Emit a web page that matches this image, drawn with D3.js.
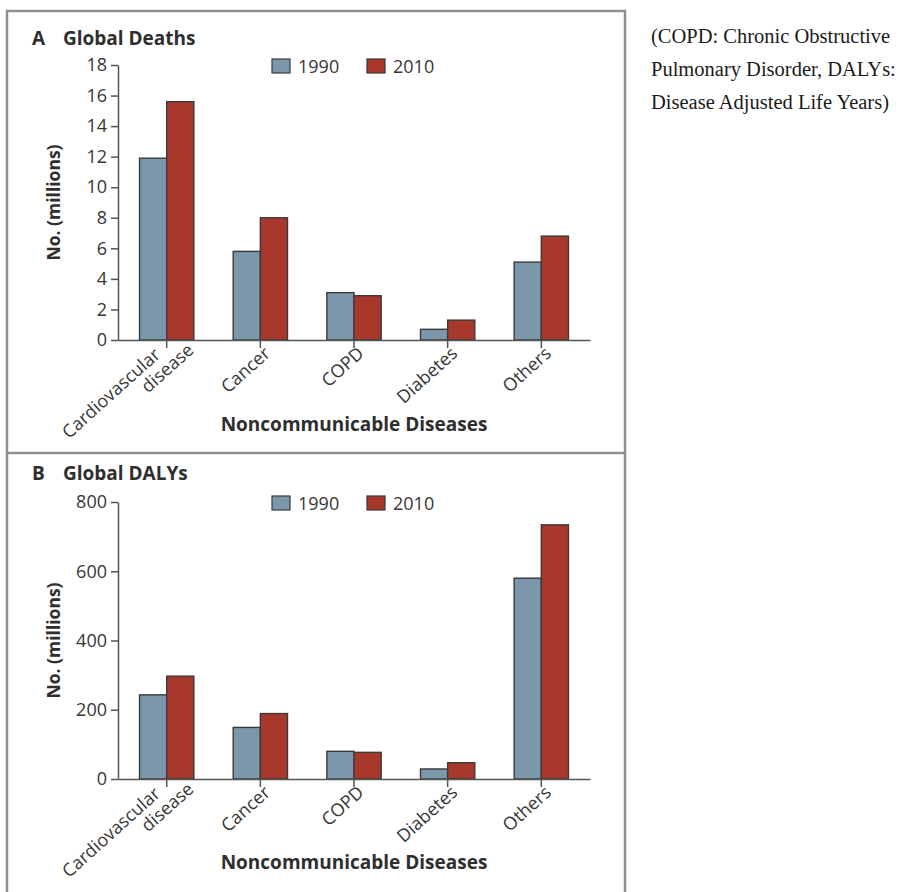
<!DOCTYPE html>
<html>
<head>
<meta charset="utf-8">
<script src="https://cdn.jsdelivr.net/npm/d3@7"></script>
<style>
  html, body { margin: 0; padding: 0; background: #fff; }
  svg { display: block; }
</style>
</head>
<body>
<svg id="chart" width="906" height="892"></svg>
<script>
// ---- data ----
const categories = ["Cardiovascular disease", "Cancer", "COPD", "Diabetes", "Others"];
const categoryLines = [["Cardiovascular", "disease"], ["Cancer"], ["COPD"], ["Diabetes"], ["Others"]];
const seriesNames = ["1990", "2010"];
const deaths1990 = [11.9, 5.8, 3.1, 0.7, 5.1];
const deaths2010 = [15.6, 8.0, 2.9, 1.3, 6.8];
const dalys1990 = [243, 149, 80, 29, 580];
const dalys2010 = [297, 189, 77, 47, 734];
const deathTicks = [0, 2, 4, 6, 8, 10, 12, 14, 16, 18];
const dalyTicks = [0, 200, 400, 600, 800];
const panelLetters = ["A", "B"];
const panelTitles = ["Global Deaths", "Global DALYs"];
const yTitle = "No. (millions)";
const xTitle = "Noncommunicable Diseases";
const noteLines = ["(COPD: Chronic Obstructive", "Pulmonary Disorder, DALYs:", "Disease Adjusted Life Years)"];

// ---- styles ----
const colors = { "1990": "#7b97ab", "2010": "#a9382c" };
const FONT = "'Open Sans', sans-serif";
const TXT = "#363636";

const svg = d3.select("#chart");

// frame
const frame = svg.append("g").attr("fill", "none").attr("stroke", "#8e8e8e").attr("stroke-width", 2.5);
frame.append("path").attr("d", "M7,892V11H625V892");
frame.append("line").attr("x1", 7).attr("x2", 625).attr("y1", 453).attr("y2", 453);

// note text
svg.append("g").selectAll("text").data(noteLines).join("text")
  .attr("x", 651).attr("y", (d, i) => 43 + i * 33)
  .attr("font-family", "'Liberation Serif', 'Times New Roman', serif")
  .attr("font-size", 20.5).attr("fill", "#1a1a1a")
  .text(d => d);

function drawPanel(cfg) {
  const g = svg.append("g");
  const x0 = d3.scaleBand().domain(categories).range([118, 590]).paddingInner(0.42).paddingOuter(0.23);
  const x1 = d3.scaleBand().domain(seriesNames).range([0, x0.bandwidth()]);
  const y = d3.scaleLinear().domain([0, cfg.max]).range([cfg.y0, cfg.yTop]);

  // title
  g.append("text").attr("x", 32).attr("y", cfg.titleY)
    .attr("font-family", FONT).attr("font-weight", 700).attr("font-size", 19).attr("fill", "#2e2e2e")
    .text(cfg.letter);
  g.append("text").attr("x", 63).attr("y", cfg.titleY)
    .attr("font-family", FONT).attr("font-weight", 700).attr("font-size", 19).attr("fill", "#2e2e2e")
    .text(cfg.title);

  // legend
  const leg = g.append("g");
  const legX = [272, 367];
  seriesNames.forEach((s, i) => {
    leg.append("rect").attr("x", legX[i]).attr("y", cfg.legendY - 7).attr("width", 18).attr("height", 14)
      .attr("fill", colors[s]).attr("stroke", "#3a3a3a").attr("stroke-width", 1.2);
    leg.append("text").attr("x", legX[i] + 26).attr("y", cfg.legendY + 6.5)
      .attr("font-family", FONT).attr("font-size", 18).attr("fill", TXT).text(s);
  });

  // bars
  const rows = categories.map((c, i) => ({ cat: c, vals: [{ s: "1990", v: cfg.v1990[i] }, { s: "2010", v: cfg.v2010[i] }] }));
  g.append("g").selectAll("g").data(rows).join("g")
    .attr("transform", d => `translate(${x0(d.cat)},0)`)
    .selectAll("rect").data(d => d.vals).join("rect")
    .attr("x", d => x1(d.s)).attr("width", x1.bandwidth())
    .attr("y", d => y(d.v)).attr("height", d => y(0) - y(d.v))
    .attr("fill", d => colors[d.s]).attr("stroke", "#3a3a3a").attr("stroke-width", 1.4);

  // y axis
  const ya = g.append("g").attr("transform", "translate(118,0)")
    .call(d3.axisLeft(y).tickValues(cfg.ticks).tickSize(7).tickSizeOuter(0).tickPadding(4).tickFormat(d3.format("d")));
  ya.selectAll("path,line").attr("stroke", "#555").attr("stroke-width", 1.5);
  ya.selectAll("text").attr("font-family", FONT).attr("font-size", 18).attr("fill", TXT);

  // x axis
  const xa = g.append("g").attr("transform", `translate(0,${cfg.y0})`)
    .call(d3.axisBottom(x0).tickSize(8).tickSizeOuter(0).tickFormat(""));
  xa.selectAll("path,line").attr("stroke", "#555").attr("stroke-width", 1.5);
  xa.selectAll(".tick text").remove();
  xa.selectAll(".tick").each(function (d) {
    const idx = categories.indexOf(d);
    const lines = categoryLines[idx];
    const t = d3.select(this).append("text")
      .attr("transform", "translate(11,15) rotate(-42)")
      .attr("text-anchor", "end")
      .attr("font-family", FONT).attr("font-size", 18).attr("fill", TXT);
    if (lines.length === 1) {
      t.append("tspan").attr("x", 0).attr("y", 0).text(lines[0]);
    } else {
      t.append("tspan").attr("x", -13).attr("y", -10).text(lines[0]);
      t.append("tspan").attr("x", 15).attr("y", 9).text(lines[1]);
    }
  });

  // axis titles
  g.append("text").attr("transform", `translate(60,${(cfg.y0 + cfg.yTop) / 2}) rotate(-90)`)
    .attr("text-anchor", "middle").attr("font-family", FONT).attr("font-weight", 700)
    .attr("font-size", 17.5).attr("fill", "#2e2e2e").text(yTitle);
  g.append("text").attr("x", 354).attr("y", cfg.xTitleY).attr("text-anchor", "middle")
    .attr("font-family", FONT).attr("font-weight", 700).attr("font-size", 19).attr("fill", "#2e2e2e")
    .text(xTitle);
}

drawPanel({ letter: panelLetters[0], title: panelTitles[0], titleY: 45, legendY: 66,
  y0: 340, yTop: 65, max: 18, ticks: deathTicks, v1990: deaths1990, v2010: deaths2010, xTitleY: 431 });
drawPanel({ letter: panelLetters[1], title: panelTitles[1], titleY: 480, legendY: 503,
  y0: 779, yTop: 502, max: 800, ticks: dalyTicks, v1990: dalys1990, v2010: dalys2010, xTitleY: 869 });
</script>
</body>
</html>
